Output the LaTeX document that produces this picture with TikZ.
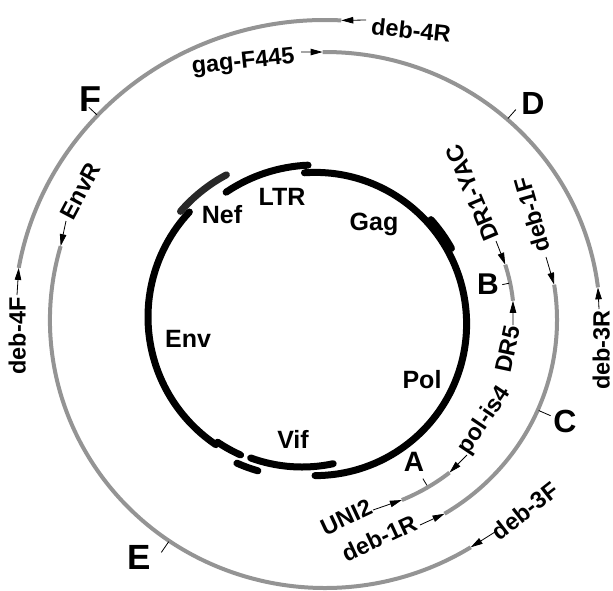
\documentclass[tikz,border=0pt]{standalone}
\usepackage{fontspec}
\setmainfont{Liberation Sans}
\usetikzlibrary{arrows.meta}
\definecolor{arcgray}{RGB}{148,148,148}
\definecolor{nefgray}{RGB}{40,40,40}
\begin{document}
\begin{tikzpicture}[x=1pt,y=1pt,
  gene/.style={line width=7pt, line cap=round, draw=black},
  genelabel/.style={font=\bfseries\fontsize{25}{29}\selectfont, inner sep=0pt, text height=18pt, text depth=0pt},
  primerarc/.style={line width=4pt, draw=arcgray},
  primer/.style={font=\bfseries\fontsize{23.5}{27}\selectfont, inner sep=0pt, text height=17pt, text depth=0pt},
  region/.style={font=\bfseries\fontsize{32}{36}\selectfont, inner sep=0pt, text height=23pt, text depth=0pt},
  tickline/.style={line width=0.8pt, draw=black},
  parrow/.style={line width=0.8pt, -{Triangle[length=12pt,width=6.5pt]}}]
\useasboundingbox (0,0) rectangle (613,-590);

% ---------------- inner genome (left-hand arcs) ----------------
\begin{scope}[shift={(302,-317)}]
  \draw[gene] (137:154pt) arc[start angle=137, end angle=236, radius=154pt];
  \draw[gene, draw=nefgray] (118:161pt) arc[start angle=118, end angle=139, radius=161pt];
  \draw[gene] (236:151pt) arc[start angle=236, end angle=246, radius=151pt];
  \draw[gene] (246:160pt) arc[start angle=246, end angle=254, radius=160pt];
  \draw[gene] (250:150pt) arc[start angle=250, end angle=282, radius=150pt];
\end{scope}
% ---------------- inner genome (right-hand arcs) ----------------
\begin{scope}[shift={(315,-324)}]
  \draw[gene] (92.5:159pt) arc[start angle=92.5, end angle=124, radius=159pt];
  \draw[gene] (94:151.6pt) arc[start angle=94, end angle=-90, radius=151.6pt];
  \draw[gene] (42:156pt) arc[start angle=42, end angle=29, radius=156pt];
\end{scope}

% ---------------- amplicon arcs ----------------
\begin{scope}[shift={(325,-320)}]
  \draw[primerarc] (87:311pt and 300pt) arc[start angle=87, end angle=170, x radius=311pt, y radius=300pt];
  \draw[primerarc] (90.5:275pt and 268pt) arc[start angle=90.5, end angle=7, x radius=275pt, y radius=268pt];
  \draw[primerarc] (164:275pt and 268pt) arc[start angle=164, end angle=302, x radius=275pt, y radius=268pt];
  \draw[primerarc] (9:232pt and 226pt) arc[start angle=9, end angle=-59, x radius=232pt, y radius=226pt];
  \draw[primerarc] (17.5:189pt and 184pt) arc[start angle=17.5, end angle=6, x radius=189pt, y radius=184pt];
  \draw[primerarc] (-51.5:200pt and 195pt) arc[start angle=-51.5, end angle=-67.4, x radius=200pt, y radius=195pt];

  % arc ends (primer positions)
  \coordinate (e4R) at (87:311pt and 300pt);
  \coordinate (e4F) at (170:311pt and 300pt);
  \coordinate (eF445) at (90.5:275pt and 268pt);
  \coordinate (e3R) at (7:275pt and 268pt);
  \coordinate (eEnvR) at (164:275pt and 268pt);
  \coordinate (e3F) at (302:275pt and 268pt);
  \coordinate (e1F) at (9:232pt and 226pt);
  \coordinate (e1R) at (-59:232pt and 226pt);
  \coordinate (eYAC) at (17.5:189pt and 184pt);
  \coordinate (eDR5) at (6:189pt and 184pt);
  \coordinate (eis4) at (-51.5:200pt and 195pt);
  \coordinate (eUNI2) at (-67.4:200pt and 195pt);

  % region ticks
  \coordinate (tF1) at (137:312pt and 301pt);   \coordinate (tF2) at (137:323pt and 312pt);
  \coordinate (tD1) at (48.5:276pt and 269pt);  \coordinate (tD2) at (48.5:288pt and 281pt);
  \coordinate (tE1) at (235.5:276pt and 269pt); \coordinate (tE2) at (235.5:289pt and 282pt);
  \coordinate (tC1) at (-23.5:233pt and 227pt); \coordinate (tC2) at (-23.5:246pt and 240pt);
  \coordinate (tB1) at (11.6:188pt and 183pt);  \coordinate (tB2) at (11.6:181pt and 176pt);
  \coordinate (tA1) at (-59:198pt and 193pt);   \coordinate (tA2) at (-59:190pt and 185pt);
\end{scope}

\draw[tickline] (tF1) -- (tF2);
\draw[tickline] (tD1) -- (tD2);
\draw[tickline] (tE1) -- (tE2);
\draw[tickline] (tC1) -- (tC2);
\draw[tickline] (tB1) -- (tB2);
\draw[tickline] (tA1) -- (tA2);

% ---------------- gene labels ----------------
\node[genelabel] (nef) at (222,-214) {Nef};
\node[genelabel] (ltr) at (282,-196) {LTR};
\node[genelabel] (gag) at (374,-221) {Gag};
\node[genelabel] (env) at (188,-338) {Env};
\node[genelabel] (pol) at (422,-379) {Pol};
\node[genelabel] (vif) at (293,-439) {Vif};

% ---------------- region letters ----------------
\node[region, font=\bfseries\fontsize{28}{32}\selectfont, text height=20pt] (A) at (414,-461) {A};
\node[region, font=\bfseries\fontsize{30}{34}\selectfont, text height=21.5pt] (B) at (488,-284) {B};
\node[region] (C) at (565,-421) {C};
\node[region] (D) at (533,-103) {D};
\node[region, font=\bfseries\fontsize{35}{40}\selectfont, text height=25pt] (E) at (139,-557) {E};
\node[region, font=\bfseries\fontsize{36}{40}\selectfont, text height=26pt] (F) at (90,-98) {F};

% ---------------- primer labels ----------------
\node[primer, rotate=-6] (l4R) at (411,-30) {deb-4R};
\node[primer, rotate=6] (lF445) at (243,-60) {gag-F445};
\node[primer, rotate=90] (l4F) at (17,-336) {deb-4F};
\node[primer, rotate=62] (lEnvR) at (80,-191) {EnvR};
\node[primer, rotate=113] (lYAC) at (472,-193) {DR1-YAC};
\node[primer, rotate=106] (l1F) at (532,-215) {deb-1F};
\node[primer, rotate=78] (lDR5) at (507,-349) {DR5};
\node[primer, rotate=90] (l3R) at (601,-350) {deb-3R};
\node[primer, rotate=56] (lis4) at (483,-419) {pol-is4};
\node[primer, rotate=25] (lUNI2) at (346,-517) {UNI2};
\node[primer, rotate=25] (l1R) at (379,-538) {deb-1R};
\node[primer, rotate=38] (l3F) at (525,-511) {deb-3F};

% ---------------- primer arrows ----------------
\coordinate (s4R) at (366,-20);
\coordinate (sF445) at (301,-52);
\coordinate (s4F) at (17,-295);
\coordinate (sEnvR) at (66,-221);
\coordinate (sYAC) at (496,-241);
\coordinate (sDR5) at (513,-325);
\coordinate (s1F) at (546,-257);
\coordinate (s3R) at (599,-309);
\coordinate (sis4) at (467,-455);
\coordinate (sUNI2) at (373,-510);
\coordinate (s1R) at (420,-525);
\coordinate (s3F) at (495,-532);

\draw[parrow] (s4R) -- (e4R);
\draw[parrow] (sF445) -- (eF445);
\draw[parrow] (s4F) -- (e4F);
\draw[parrow] (sEnvR) -- (eEnvR);
\draw[parrow] (sYAC) -- (eYAC);
\draw[parrow] (sDR5) -- (eDR5);
\draw[parrow] (s1F) -- (e1F);
\draw[parrow] (s3R) -- (e3R);
\draw[parrow] (sis4) -- (eis4);
\draw[parrow] (sUNI2) -- (eUNI2);
\draw[parrow] (s1R) -- (e1R);
\draw[parrow] (s3F) -- (e3F);
\end{tikzpicture}
\end{document}
